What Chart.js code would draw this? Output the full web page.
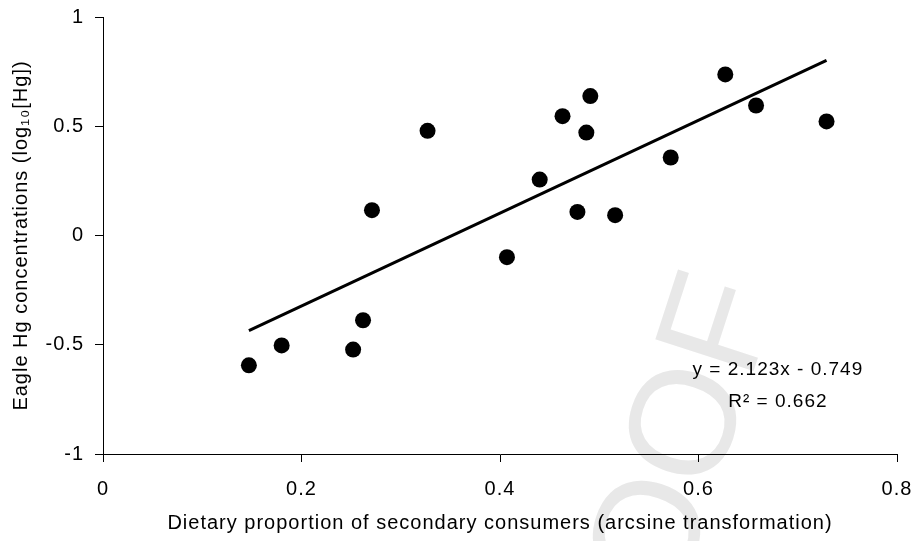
<!doctype html>
<html lang="en">
<head>
<meta charset="utf-8">
<style>
    body { margin: 0; background: #fff; }
    #wrap { width: 915px; height: 541px; }
</style>
</head>
<body>
    <div id="wrap">
        <canvas id="myChart" width="915" height="541"></canvas>
    </div>

    <script src="https://cdn.jsdelivr.net/npm/chart.js"></script>

    <script>
    // values
    const dietProportion = [0.147, 0.180, 0.252, 0.262, 0.271, 0.327, 0.407, 0.440, 0.463,
                            0.478, 0.487, 0.491, 0.516, 0.572, 0.627, 0.658, 0.729];
    const eagleHg = [-0.594, -0.503, -0.522, -0.388, 0.116, 0.479, -0.099, 0.256, 0.546,
                     0.108, 0.471, 0.638, 0.093, 0.357, 0.737, 0.595, 0.522];

    // trend line end points, as drawn
    const trendX = [0.147, 0.729];
    const trendY = [-0.435, 0.801];

    const xTickLabels = ['0', '0.2', '0.4', '0.6', '0.8'];
    const yTickLabels = ['-1', '-0.5', '0', '0.5', '1'];

    const equationText = 'y = 2.123x - 0.749';
    const rSquaredText = 'R² = 0.662';

    const FONT = '"Liberation Sans", Arial, sans-serif';

    Chart.defaults.font.family = FONT;
    Chart.defaults.color = '#000';

    // the old excel export has loose letter spacing
    const spacing = {
        id: 'spacing',
        beforeUpdate(chart) { chart.ctx.letterSpacing = '1px'; },
        beforeDraw(chart) { chart.ctx.letterSpacing = '1px'; }
    };

    // faint "PROOF" stamp behind the chart
    const watermark = {
        id: 'watermark',
        beforeDraw(chart) {
            const ctx = chart.ctx;
            ctx.save();
            ctx.translate(574, 790);
            ctx.rotate(-72 * Math.PI / 180);
            ctx.font = '150px ' + FONT;
            ctx.letterSpacing = '0px';
            ctx.fillStyle = '#e8e8e8';
            ctx.textAlign = 'left';
            ctx.textBaseline = 'middle';
            ctx.fillText('PROOF', 0, 0);
            ctx.restore();
        }
    };

    // regression equation text
    const equationLabel = {
        id: 'equationLabel',
        afterDatasetsDraw(chart) {
            const ctx = chart.ctx;
            const xs = chart.scales.x;
            const ys = chart.scales.y;
            ctx.save();
            ctx.font = '19px ' + FONT;
            ctx.letterSpacing = '1px';
            ctx.fillStyle = '#000';
            ctx.textAlign = 'center';
            ctx.textBaseline = 'middle';
            ctx.fillText(equationText, xs.getPixelForValue(0.68), ys.getPixelForValue(-0.613));
            ctx.fillText(rSquaredText, xs.getPixelForValue(0.68), ys.getPixelForValue(-0.76));
            ctx.restore();
        }
    };

    const ctx = document.getElementById('myChart');

    new Chart(ctx, {
        type: 'scatter',
        data: {
            datasets: [{
                label: 'Eagles',
                data: dietProportion.map((x, i) => ({ x: x, y: eagleHg[i] })),
                backgroundColor: '#000',
                borderColor: '#000',
                borderWidth: 0,
                pointRadius: 8,
                pointHoverRadius: 8
            }, {
                type: 'line',
                label: 'Trend',
                data: trendX.map((x, i) => ({ x: x, y: trendY[i] })),
                borderColor: '#000',
                borderWidth: 3,
                pointRadius: 0,
                fill: false
            }]
        },
        options: {
            responsive: false,
            animation: false,
            layout: {
                padding: { left: 0, right: 18, top: 17, bottom: 0 }
            },
            plugins: {
                legend: { display: false },
                tooltip: { enabled: false }
            },
            scales: {
                x: {
                    type: 'linear',
                    min: 0,
                    max: 0.8,
                    afterFit: s => {
                        s.height = 87;
                        s.paddingLeft = 0;
                        s.paddingRight = 18;
                    },
                    ticks: {
                        stepSize: 0.2,
                        padding: 15,
                        font: { size: 20 },
                        color: '#000',
                        callback: v => xTickLabels[Math.round(v / 0.2)]
                    },
                    grid: {
                        drawOnChartArea: false,
                        drawTicks: true,
                        tickLength: 8,
                        tickColor: '#000',
                        color: '#000'
                    },
                    border: { display: true, color: '#000', width: 1 },
                    title: {
                        display: true,
                        text: 'Dietary proportion of secondary consumers (arcsine transformation)',
                        font: { size: 20 },
                        color: '#000',
                        padding: { top: 0, bottom: 6 }
                    }
                },
                y: {
                    type: 'linear',
                    min: -1,
                    max: 1,
                    afterFit: s => {
                        s.width = 103;
                        s.paddingTop = 10;
                        s.paddingBottom = 10;
                    },
                    ticks: {
                        stepSize: 0.5,
                        padding: 11,
                        font: { size: 20 },
                        color: '#000',
                        callback: v => yTickLabels[Math.round((v + 1) / 0.5)]
                    },
                    grid: {
                        drawOnChartArea: false,
                        drawTicks: true,
                        tickLength: 8,
                        tickColor: '#000',
                        color: '#000'
                    },
                    border: { display: true, color: '#000', width: 1 },
                    title: {
                        display: true,
                        text: 'Eagle Hg concentrations (log₁₀[Hg])',
                        font: { size: 20 },
                        color: '#000',
                        padding: { top: 9, bottom: 0 }
                    }
                }
            }
        },
        plugins: [spacing, watermark, equationLabel]
    });
    </script>
</body>
</html>
